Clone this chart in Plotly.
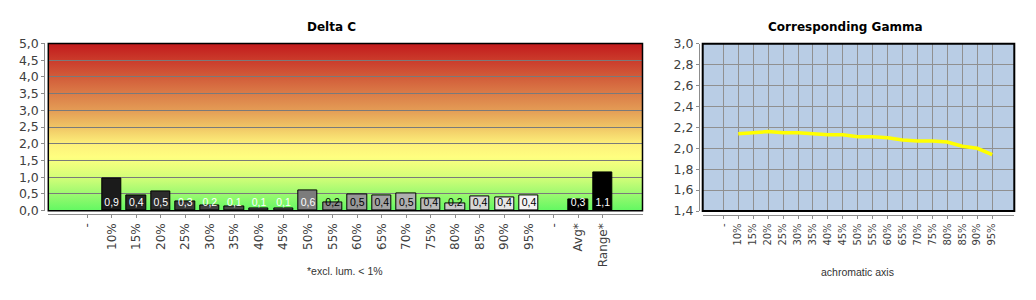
import base64
import plotly.graph_objects as go

# ---------------- data ----------------
dc_categories = ["-", "10%", "15%", "20%", "25%", "30%", "35%", "40%", "45%", "50%",
                 "55%", "60%", "65%", "70%", "75%", "80%", "85%", "90%", "95%",
                 "-", "Avg*", "Range*"]
dc_values = [None, 0.95, 0.45, 0.56, 0.28, 0.16, 0.13, 0.08, 0.08, 0.59,
             0.25, 0.48, 0.44, 0.50, 0.36, 0.23, 0.43, 0.40, 0.45,
             None, 0.34, 1.14]
dc_labels = [None, "0,9", "0,4", "0,5", "0,3", "0,2", "0,1", "0,1", "0,1", "0,6",
             "0,2", "0,5", "0,4", "0,5", "0,4", "0,2", "0,4", "0,4", "0,4",
             None, "0,3", "1,1"]

gamma_categories = ["-", "10%", "15%", "20%", "25%", "30%", "35%", "40%", "45%", "50%",
                    "55%", "60%", "65%", "70%", "75%", "80%", "85%", "90%", "95%"]
gamma_values = [None, 2.14, 2.15, 2.16, 2.15, 2.15, 2.14, 2.13, 2.13, 2.11,
                2.11, 2.10, 2.08, 2.07, 2.07, 2.06, 2.02, 2.00, 1.94]

# ---------------- styles ----------------
bar_colors = ["#000000", "#1b1b1b", "#262626", "#2c2c2c", "#393939", "#414141", "#484848",
              "#505050", "#595959", "#7c7c7c", "#888888", "#979797", "#a3a3a3", "#afafaf",
              "#bababa", "#c8c8c8", "#d8d8d8", "#e6e6e6", "#f4f4f4", "#000000", "#000000",
              "#000000"]
label_colors = ["white"] * 10 + ["black"] * 9 + ["white"] * 3

W, H = 1036, 300


def fx(p):
    return p / W


def fy(p):
    return 1 - p / H


FONT = "DejaVu Sans"
TICKC = "#404040"

# gradient background (SVG data URI)
stops = [(0.0, "#c21a1c"), (0.2, "#d25c3a"), (0.4, "#e49c55"), (0.5, "#f0c565"),
         (0.6, "#fdf07a"), (0.68, "#ffff80"), (0.8, "#d4fe78"), (0.9, "#9cf970"),
         (1.0, "#62f862")]
stop_xml = "".join(f'<stop offset="{o}" stop-color="{c}"/>' for o, c in stops)
svg = ('<svg xmlns="http://www.w3.org/2000/svg" width="10" height="200" '
       'preserveAspectRatio="none"><defs><linearGradient id="g" x1="0" y1="0" x2="0" y2="1">'
       + stop_xml + '</linearGradient></defs><rect width="10" height="200" fill="url(#g)"/></svg>')
svg_uri = "data:image/svg+xml;base64," + base64.b64encode(svg.encode()).decode()

L_x0, L_x1, L_y0, L_y1 = 48.3, 642.5, 37.3, 213.3
R_x0, R_x1, R_y0, R_y1 = 702.7, 1014.3, 37.7, 213.7

dc_idx = list(range(len(dc_categories)))
g_idx = list(range(len(gamma_categories)))

fig = go.Figure()
fig.add_trace(go.Bar(
    x=dc_idx, y=dc_values, width=0.79,
    marker=dict(color=bar_colors, line=dict(color="black", width=1)),
    xaxis="x", yaxis="y", hoverinfo="skip"))

lab_x = [i for i, t in zip(dc_idx, dc_labels) if t]
lab_t = [t for t in dc_labels if t]
lab_c = [c for c, t in zip(label_colors, dc_labels) if t]
fig.add_trace(go.Scatter(
    x=lab_x, y=[0.22] * len(lab_x), mode="text", text=lab_t,
    textfont=dict(family="Liberation Sans", size=10.5, color=lab_c),
    xaxis="x", yaxis="y", hoverinfo="skip"))

fig.add_trace(go.Scatter(
    x=g_idx, y=gamma_values, mode="lines",
    line=dict(color="#ffff00", width=3.5),
    xaxis="x2", yaxis="y2", hoverinfo="skip"))

axis_common = dict(showline=True, linecolor="#8c8c8c", linewidth=1, ticks="outside",
                   tickcolor="#8c8c8c", ticklen=3, zeroline=False, fixedrange=True)

ann_common = dict(xref="paper", yref="paper", showarrow=False,
                  xanchor="center", yanchor="middle")

fig.update_layout(
    width=W, height=H, margin=dict(l=0, r=0, t=0, b=0),
    paper_bgcolor="white", plot_bgcolor="#b9cde5",
    separators=",.", showlegend=False, bargap=0,
    font=dict(family=FONT, size=12, color=TICKC),
    xaxis=dict(domain=[fx(L_x0), fx(L_x1)], anchor="free", position=fy(217.3),
               range=[-1.58, 22.62], tickmode="array", tickvals=dc_idx,
               ticktext=dc_categories, tickangle=-90, showgrid=False,
               tickfont=dict(family=FONT, size=12, color=TICKC), **axis_common),
    yaxis=dict(domain=[fy(L_y1), fy(L_y0)], anchor="free", position=fx(44.3),
               range=[0, 5], dtick=0.5, tickformat=".1f", showgrid=True,
               gridcolor="#7a7a7a", gridwidth=1,
               tickfont=dict(family=FONT, size=12.5, color=TICKC), **axis_common),
    xaxis2=dict(domain=[fx(R_x0), fx(R_x1)], anchor="free", position=fy(218.3),
                range=[-1.38, 19.48], tickmode="array", tickvals=g_idx,
                ticktext=gamma_categories, tickangle=-90, showgrid=True,
                gridcolor="#909090", gridwidth=1,
                tickfont=dict(family=FONT, size=10, color=TICKC), **axis_common),
    yaxis2=dict(domain=[fy(R_y1), fy(R_y0)], anchor="free", position=fx(699),
                range=[1.4, 3.0], dtick=0.2, tickformat=".1f", showgrid=True,
                gridcolor="#909090", gridwidth=1,
                tickfont=dict(family=FONT, size=12.5, color=TICKC), **axis_common),
    images=[dict(source=svg_uri, xref="paper", yref="paper", x=fx(L_x0), y=fy(L_y0),
                 sizex=fx(L_x1) - fx(L_x0), sizey=fy(L_y0) - fy(L_y1),
                 xanchor="left", yanchor="top", sizing="stretch", layer="below")],
    shapes=[
        dict(type="rect", xref="x domain", yref="y domain", x0=0, x1=1, y0=0, y1=1,
             line=dict(color="black", width=1.5), layer="above"),
        dict(type="rect", xref="x2 domain", yref="y2 domain", x0=0, x1=1, y0=0, y1=1,
             line=dict(color="black", width=2), layer="above"),
    ],
    annotations=[
        dict(text="<b>Delta C</b>", x=fx(331), y=fy(20),
             font=dict(family=FONT, size=12, color="black"), **ann_common),
        dict(text="<b>Corresponding Gamma</b>", x=fx(845), y=fy(20),
             font=dict(family=FONT, size=12, color="black"), **ann_common),
        dict(text="*excl. lum. &lt; 1%", x=fx(345), y=fy(277),
             font=dict(family="Liberation Sans", size=10.5, color="#333333"), **ann_common),
        dict(text="achromatic axis", x=fx(857.6), y=fy(277.7),
             font=dict(family="Liberation Sans", size=10.5, color="#333333"), **ann_common),
    ],
)

fig.write_html("out.html", config={"displayModeBar": False})
